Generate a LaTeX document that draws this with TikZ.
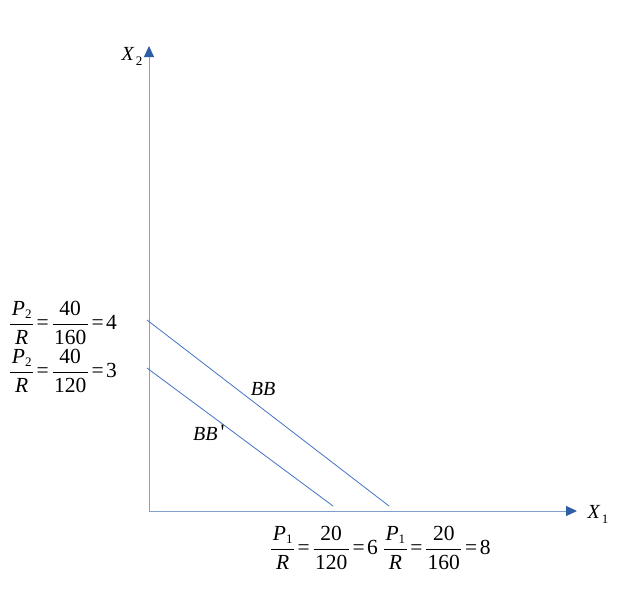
\documentclass[tikz,border=0pt]{standalone}
\usepackage{fontspec}
\setmainfont{Liberation Serif}
\usepackage{amsmath}
\usetikzlibrary{arrows.meta}
\definecolor{axisc}{RGB}{130,160,205}
\definecolor{arrowc}{RGB}{46,94,168}
\definecolor{linec}{RGB}{68,114,196}
\newcommand\myfr[2]{\ensuremath{\dfrac{\mbox{\kern1.5pt#1\kern1.5pt}}{\mbox{\kern1.5pt#2\kern1.5pt}}}}
\newcommand\myP[1]{\textit{P}\raisebox{-3pt}{\fontsize{13}{13}\selectfont #1}}
\newcommand\myeq{\ensuremath{\mbox{\kern2.5pt=\kern2.5pt}}}
\begin{document}
\begin{tikzpicture}[x=1pt,y=-1pt,
  axis/.style={draw=axisc,line width=1pt,-{Triangle[length=11pt,width=10pt,color=arrowc,fill=arrowc]}},
  budget/.style={draw=linec,line width=0.8pt},
  lbl/.style={font=\fontsize{20}{22}\selectfont\itshape,inner sep=0pt},
  frlbl/.style={font=\fontsize{21.5}{22}\selectfont,inner sep=0pt}]
\useasboundingbox (0,0) rectangle (638,600);
\coordinate (O) at (149,511);
\coordinate (Ytop) at (149,46);
\coordinate (Xend) at (577,511);
\draw[axis] (O) -- (Ytop);
\draw[axis] (O) -- (Xend);
\coordinate (a1) at (147,320);
\coordinate (a2) at (389,506);
\coordinate (b1) at (147,368);
\coordinate (b2) at (333,506);
\draw[budget] (a1) -- (a2);
\draw[budget] (b1) -- (b2);
\node[lbl] (x2) at (132,56) {X\raisebox{-5pt}{\upshape\fontsize{13}{13}\selectfont\,2}};
\node[lbl] (x1) at (598,514) {X\raisebox{-5pt}{\upshape\fontsize{13}{13}\selectfont\,1}};
\node[lbl] (bb) at (263,389) {BB};
\node[lbl,anchor=west] (bbp) at (193,433) {BB\kern3pt\raisebox{1pt}{\fontsize{22}{22}\selectfont\upshape\textquotesingle}};
\node[frlbl,anchor=west] (f1) at (9,323) {\myfr{\myP{2}}{\textit{R}}\myeq\myfr{40}{160}\myeq4};
\node[frlbl,anchor=west] (f2) at (9,371) {\myfr{\myP{2}}{\textit{R}}\myeq\myfr{40}{120}\myeq3};
\node[frlbl,anchor=west] (f3) at (270,548) {\myfr{\myP{1}}{\textit{R}}\myeq\myfr{20}{120}\myeq6\kern5pt\myfr{\myP{1}}{\textit{R}}\myeq\myfr{20}{160}\myeq8};
\end{tikzpicture}
\end{document}
